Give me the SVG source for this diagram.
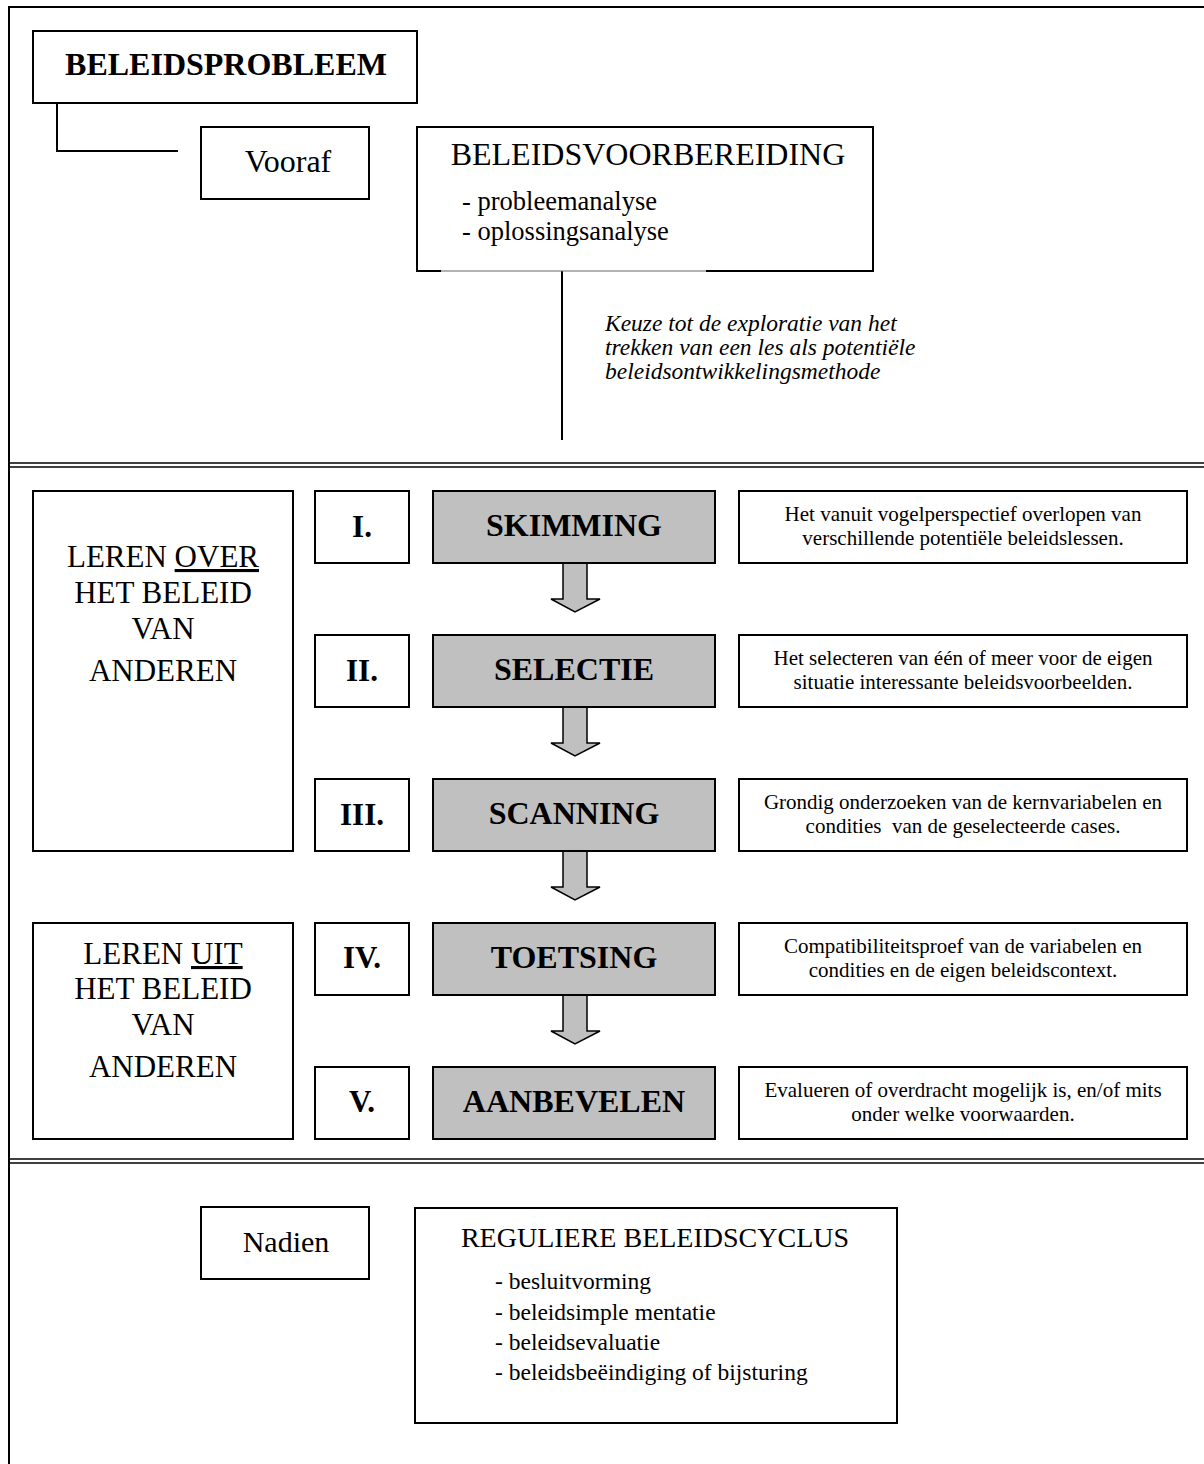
<svg xmlns="http://www.w3.org/2000/svg" width="1204" height="1464" viewBox="0 0 1204 1464">
<style>
text{font-family:"Liberation Serif","Times New Roman",serif;fill:#000}
.box{fill:#fff;stroke:#000;stroke-width:2}
.gray{fill:#c0c0c0;stroke:#000;stroke-width:2}
.ln{fill:none;stroke:#000;stroke-width:2}
.dbl{fill:none;stroke:#000;stroke-width:1.5}
.big{font-size:32px}
.bold{font-weight:bold}
.num{font-size:31px;font-weight:bold;text-anchor:middle}
.step{font-size:32px;font-weight:bold;text-anchor:middle}
.desc{font-size:21px;text-anchor:middle}
.left{font-size:31px;text-anchor:middle}
.arrow{fill:#c0c0c0;stroke:#000;stroke-width:1.5;stroke-linejoin:miter}
</style>
<rect x="0" y="0" width="1204" height="1464" fill="#fff"/>
<g id="frame">
<path class="ln" d="M9,1464 V7 H1204"/>
<line class="dbl" x1="9" y1="463" x2="1204" y2="463"/>
<line class="dbl" x1="9" y1="467" x2="1204" y2="467"/>
<line class="dbl" x1="9" y1="1159" x2="1204" y2="1159"/>
<line class="dbl" x1="9" y1="1163" x2="1204" y2="1163"/>
</g>
<g id="connectors">
<path class="ln" d="M57,103 V151 H178"/>
<line class="ln" x1="562" y1="271" x2="562" y2="440"/>
<polygon class="arrow" points="563,563 587,563 587,599 600,599 575,612 551,599 563,599"/>
<polygon class="arrow" points="563,707 587,707 587,743 600,743 575,756 551,743 563,743"/>
<polygon class="arrow" points="563,851 587,851 587,887 600,887 575,900 551,887 563,887"/>
<polygon class="arrow" points="563,995 587,995 587,1031 600,1031 575,1044 551,1031 563,1031"/>
</g>
<g id="beleidsprobleem">
<rect class="box" x="33" y="31" width="384" height="72"/>
<text class="big bold" x="226" y="75" text-anchor="middle">BELEIDSPROBLEEM</text>
</g>
<g id="vooraf">
<rect class="box" x="201" y="127" width="168" height="72"/>
<text class="big" x="288" y="172" text-anchor="middle">Vooraf</text>
</g>
<g id="beleidsvoorbereiding">
<path class="ln" d="M441,271 H417 V127 H873 V271 H706"/>
<line x1="441" y1="271" x2="706" y2="271" stroke="#666" stroke-width="1"/>
<text x="648" y="165" font-size="32" text-anchor="middle">BELEIDSVOORBEREIDING</text>
<text x="462" y="210" font-size="26.5">- probleemanalyse</text>
<text x="462" y="240" font-size="26.5">- oplossingsanalyse</text>
</g>
<g id="keuze">
<text font-size="23.5" font-style="italic">
<tspan x="605" y="331">Keuze tot de exploratie van het</tspan>
<tspan x="605" y="355">trekken van een les als potentiële</tspan>
<tspan x="605" y="379">beleidsontwikkelingsmethode</tspan>
</text>
</g>
<g id="leren-over">
<rect class="box" x="33" y="491" width="260" height="360"/>
<text class="left" x="163" y="567">LEREN <tspan text-decoration="underline">OVER</tspan></text>
<text class="left" x="163" y="603">HET BELEID</text>
<text class="left" x="163" y="639">VAN</text>
<text class="left" x="163" y="681">ANDEREN</text>
</g>
<g id="leren-uit">
<rect class="box" x="33" y="923" width="260" height="216"/>
<text class="left" x="163" y="964">LEREN <tspan text-decoration="underline">UIT</tspan></text>
<text class="left" x="163" y="999">HET BELEID</text>
<text class="left" x="163" y="1035">VAN</text>
<text class="left" x="163" y="1077">ANDEREN</text>
</g>
<g id="step-1">
<rect class="box" x="315" y="491" width="94" height="72"/>
<text class="num" x="362" y="537">I.</text>
<rect class="gray" x="433" y="491" width="282" height="72"/>
<text class="step" x="574" y="536">SKIMMING</text>
<rect class="box" x="739" y="491" width="448" height="72"/>
<text class="desc" x="963" y="521">Het vanuit vogelperspectief overlopen van</text>
<text class="desc" x="963" y="545">verschillende potentiële beleidslessen.</text>
</g>
<g id="step-2">
<rect class="box" x="315" y="635" width="94" height="72"/>
<text class="num" x="362" y="681">II.</text>
<rect class="gray" x="433" y="635" width="282" height="72"/>
<text class="step" x="574" y="680">SELECTIE</text>
<rect class="box" x="739" y="635" width="448" height="72"/>
<text class="desc" x="963" y="665">Het selecteren van één of meer voor de eigen</text>
<text class="desc" x="963" y="689">situatie interessante beleidsvoorbeelden.</text>
</g>
<g id="step-3">
<rect class="box" x="315" y="779" width="94" height="72"/>
<text class="num" x="362" y="825">III.</text>
<rect class="gray" x="433" y="779" width="282" height="72"/>
<text class="step" x="574" y="824">SCANNING</text>
<rect class="box" x="739" y="779" width="448" height="72"/>
<text class="desc" x="963" y="809">Grondig onderzoeken van de kernvariabelen en</text>
<text class="desc" x="963" y="833" style="white-space:pre">condities  van de geselecteerde cases.</text>
</g>
<g id="step-4">
<rect class="box" x="315" y="923" width="94" height="72"/>
<text class="num" x="362" y="968">IV.</text>
<rect class="gray" x="433" y="923" width="282" height="72"/>
<text class="step" x="574" y="968">TOETSING</text>
<rect class="box" x="739" y="923" width="448" height="72"/>
<text class="desc" x="963" y="953">Compatibiliteitsproef van de variabelen en</text>
<text class="desc" x="963" y="977">condities en de eigen beleidscontext.</text>
</g>
<g id="step-5">
<rect class="box" x="315" y="1067" width="94" height="72"/>
<text class="num" x="362" y="1112">V.</text>
<rect class="gray" x="433" y="1067" width="282" height="72"/>
<text class="step" x="574" y="1112">AANBEVELEN</text>
<rect class="box" x="739" y="1067" width="448" height="72"/>
<text class="desc" x="963" y="1097">Evalueren of overdracht mogelijk is, en/of mits</text>
<text class="desc" x="963" y="1121">onder welke voorwaarden.</text>
</g>
<g id="nadien">
<rect class="box" x="201" y="1207" width="168" height="72"/>
<text x="286" y="1252" font-size="30" text-anchor="middle">Nadien</text>
</g>
<g id="reguliere-beleidscyclus">
<rect class="box" x="415" y="1208" width="482" height="215"/>
<text x="655" y="1247" font-size="28" text-anchor="middle">REGULIERE BELEIDSCYCLUS</text>
<text x="495" y="1289" font-size="23.5">- besluitvorming</text>
<text x="495" y="1320" font-size="23.5">- beleidsimple mentatie</text>
<text x="495" y="1350" font-size="23.5">- beleidsevaluatie</text>
<text x="495" y="1380" font-size="23.5">- beleidsbeëindiging of bijsturing</text>
</g>
</svg>
